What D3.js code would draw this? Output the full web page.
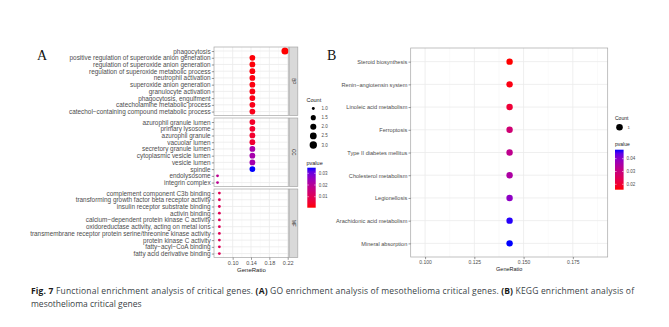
<!DOCTYPE html>
<html>
<head>
<meta charset="utf-8">
<script src="https://cdn.jsdelivr.net/npm/d3@7"></script>
<style>
  body { margin: 0; background: #fff; }
  svg { display: block; }
</style>
</head>
<body>
<div id="chart"></div>
<script>
// DATA - panel A (GO), top to bottom inside each ontology
const bpTerms = [
	"phagocytosis",
	"positive regulation of superoxide anion generation",
	"regulation of superoxide anion generation",
	"regulation of superoxide metabolic process",
	"neutrophil activation",
	"superoxide anion generation",
	"granulocyte activation",
	"phagocytosis, engulfment",
	"catecholamine metabolic process",
	"catechol\u2212containing compound metabolic process",
];
const bpRatio = [0.214, 0.143, 0.143, 0.143, 0.143, 0.143, 0.143, 0.143, 0.143, 0.143];
const bpCount = [3, 2, 2, 2, 2, 2, 2, 2, 2, 2];
const bpP = [0.0006, 0.0010, 0.0011, 0.0013, 0.0015, 0.0016, 0.0018, 0.0020, 0.0022, 0.0024];

const ccTerms = [
	"azurophil granule lumen",
	"primary lysosome",
	"azurophil granule",
	"vacuolar lumen",
	"secretory granule lumen",
	"cytoplasmic vesicle lumen",
	"vesicle lumen",
	"spindle",
	"endolysosome",
	"integrin complex",
];
const ccRatio = [0.143, 0.143, 0.143, 0.143, 0.143, 0.143, 0.143, 0.143, 0.067, 0.067];
const ccCount = [2, 2, 2, 2, 2, 2, 2, 2, 1, 1];
const ccP = [0.0040, 0.0045, 0.0045, 0.0050, 0.0225, 0.0230, 0.0230, 0.0348, 0.0190, 0.0190];

const mfTerms = [
	"complement component C3b binding",
	"transforming growth factor beta receptor activity",
	"insulin receptor substrate binding",
	"activin binding",
	"calcium\u2212dependent protein kinase C activity",
	"oxidoreductase activity, acting on metal ions",
	"transmembrane receptor protein serine/threonine kinase activity",
	"protein kinase C activity",
	"fatty\u2212acyl\u2212CoA binding",
	"fatty acid derivative binding",
];
const mfRatio = [0.071, 0.071, 0.071, 0.071, 0.071, 0.071, 0.071, 0.071, 0.071, 0.071];
const mfCount = [1, 1, 1, 1, 1, 1, 1, 1, 1, 1];
const mfP = [0.0105, 0.0105, 0.0105, 0.0105, 0.0105, 0.0105, 0.0105, 0.0105, 0.0105, 0.0105];

const ontologies = ["BP", "CC", "MF"];
const goTicks = [0.10, 0.14, 0.18, 0.22];
const goMinor = [0.08, 0.12, 0.16, 0.20];
const countLegend = [1.0, 1.5, 2.0, 2.5, 3.0];
const goPTicks = [0.01, 0.02, 0.03];

// DATA - panel B (KEGG)
const keggTerms = [
	"Steroid biosynthesis",
	"Renin\u2212angiotensin system",
	"Linoleic acid metabolism",
	"Ferroptosis",
	"Type II diabetes mellitus",
	"Cholesterol metabolism",
	"Legionellosis",
	"Arachidonic acid metabolism",
	"Mineral absorption",
];
const keggRatio = [0.1429, 0.1429, 0.1429, 0.1429, 0.1429, 0.1429, 0.1429, 0.1429, 0.1429];
const keggCount = [1, 1, 1, 1, 1, 1, 1, 1, 1];
const keggP = [0.0158, 0.0168, 0.0205, 0.0285, 0.0320, 0.0350, 0.0395, 0.0465, 0.0470];
const keggTicks = [0.100, 0.125, 0.150, 0.175];
const keggMinor = [0.1125, 0.1375, 0.1625, 0.1875];
const keggPTicks = [0.02, 0.03, 0.04];

//DIMENSIONS
const width = 669,
	height = 327;
const font = "'Liberation Sans', Arial, sans-serif";
const txt = "#4d4d4d";
const gridMajor = "#ebebeb",
	gridMinor = "#f5f5f5",
	border = "#a6a6a6";

const svg = d3
	.select("#chart")
	.append("svg")
	.attr("width", width)
	.attr("height", height);

/* panel A */
const aLeft = 214,
	aRight = 288.8,
	stripW = 8.6,
	panelTops = [47, 118, 189],
	panelH = 68.6;

const xA = d3.scaleLinear().domain([0.0593, 0.2224]).range([aLeft, aRight]);

const pAll = [...bpP, ...ccP, ...mfP];
const colorA = d3
	.scaleLinear()
	.domain(d3.extent(pAll))
	.range(["red", "blue"])
	.interpolate(d3.interpolateLab);

// ggplot style area scaling of point size
const sizeT = d3.scaleLinear().domain([1, 3]).range([0, 1]);
const rA = d3.scaleLinear().domain([0, 1]).range([1.4, 3.5]);
const radiusA = c => rA(Math.sqrt(sizeT(c)));

const goData = [
	{ terms: bpTerms, ratio: bpRatio, count: bpCount, p: bpP },
	{ terms: ccTerms, ratio: ccRatio, count: ccCount, p: ccP },
	{ terms: mfTerms, ratio: mfRatio, count: mfCount, p: mfP },
];

goData.forEach((g, k) => {
	const top = panelTops[k];
	const y = d3.scalePoint().domain(g.terms).range([top, top + panelH]).padding(0.6);
	const panel = svg.append("g");

	panel
		.append("rect")
		.attr("x", aLeft)
		.attr("y", top)
		.attr("width", aRight - aLeft)
		.attr("height", panelH)
		.attr("fill", "#fff");

	// grid
	panel
		.selectAll("line.minor")
		.data(goMinor)
		.enter()
		.append("line")
		.attr("x1", d => xA(d))
		.attr("x2", d => xA(d))
		.attr("y1", top)
		.attr("y2", top + panelH)
		.attr("stroke", gridMinor)
		.attr("stroke-width", 0.5);
	panel
		.selectAll("line.vmaj")
		.data(goTicks)
		.enter()
		.append("line")
		.attr("x1", d => xA(d))
		.attr("x2", d => xA(d))
		.attr("y1", top)
		.attr("y2", top + panelH)
		.attr("stroke", gridMajor)
		.attr("stroke-width", 0.8);
	panel
		.selectAll("line.hmaj")
		.data(g.terms)
		.enter()
		.append("line")
		.attr("x1", aLeft)
		.attr("x2", aRight)
		.attr("y1", d => y(d))
		.attr("y2", d => y(d))
		.attr("stroke", gridMajor)
		.attr("stroke-width", 0.8);

	// points
	panel
		.selectAll("circle")
		.data(g.terms.map((t, i) => ({ t, r: g.ratio[i], c: g.count[i], p: g.p[i] })))
		.enter()
		.append("circle")
		.attr("cx", d => xA(d.r))
		.attr("cy", d => y(d.t))
		.attr("r", d => radiusA(d.c))
		.attr("fill", d => colorA(d.p));

	panel
		.append("rect")
		.attr("x", aLeft)
		.attr("y", top)
		.attr("width", aRight - aLeft)
		.attr("height", panelH)
		.attr("fill", "none")
		.attr("stroke", border)
		.attr("stroke-width", 0.7);

	// strip
	panel
		.append("rect")
		.attr("x", aRight + 0.4)
		.attr("y", top)
		.attr("width", stripW)
		.attr("height", panelH)
		.attr("fill", "#d9d9d9")
		.attr("stroke", border)
		.attr("stroke-width", 0.7);
	panel
		.append("text")
		.attr("transform", `translate(${aRight + 0.4 + stripW / 2}, ${top + panelH / 2}) rotate(90)`)
		.attr("text-anchor", "middle")
		.attr("dy", "0.35em")
		.style("font-family", font)
		.style("font-size", "4.6px")
		.style("fill", "#1a1a1a")
		.text(ontologies[k]);

	// y axis
	const yAxis = panel
		.append("g")
		.attr("transform", `translate(${aLeft},0)`)
		.call(d3.axisLeft(y).tickSize(2.2).tickPadding(1.2));
	yAxis.select(".domain").remove();
	yAxis.selectAll("line").attr("stroke", "#333").attr("stroke-width", 0.5);
	yAxis
		.selectAll("text")
		.style("font-family", font)
		.style("font-size", "6.4px")
		.attr("fill", txt);

	if (k === 2) {
		const xAxis = panel
			.append("g")
			.attr("transform", `translate(0,${top + panelH})`)
			.call(d3.axisBottom(xA).tickValues(goTicks).tickFormat(d3.format(".2f")).tickSize(2.2).tickPadding(1.2));
		xAxis.select(".domain").remove();
		xAxis.selectAll("line").attr("stroke", "#333").attr("stroke-width", 0.5);
		xAxis
			.selectAll("text")
			.style("font-family", font)
			.style("font-size", "5.5px")
			.attr("fill", txt);
		panel
			.append("text")
			.attr("x", (aLeft + aRight) / 2)
			.attr("y", top + panelH + 14.5)
			.attr("text-anchor", "middle")
			.style("font-family", font)
			.style("font-size", "6px")
			.style("fill", "#1a1a1a")
			.text("GeneRatio");
	}
});

// legend helper
function colourbar(g, x, y, w, h, scale, ticks) {
	const id = "grad" + Math.round(x);
	const grad = svg
		.append("defs")
		.append("linearGradient")
		.attr("id", id)
		.attr("x1", 0)
		.attr("x2", 0)
		.attr("y1", 1)
		.attr("y2", 0);
	const dom = scale.domain();
	d3.range(0, 1.0001, 0.1).forEach(t => {
		grad
			.append("stop")
			.attr("offset", t)
			.attr("stop-color", scale(dom[0] + t * (dom[1] - dom[0])));
	});
	g.append("rect").attr("x", x).attr("y", y).attr("width", w).attr("height", h).attr("fill", `url(#${id})`);
	const yb = d3.scaleLinear().domain(dom).range([y + h, y]);
	ticks.forEach(v => {
		g.append("line").attr("x1", x).attr("x2", x + 1.6).attr("y1", yb(v)).attr("y2", yb(v)).attr("stroke", "#fff").attr("stroke-width", 0.5);
		g.append("line").attr("x1", x + w - 1.6).attr("x2", x + w).attr("y1", yb(v)).attr("y2", yb(v)).attr("stroke", "#fff").attr("stroke-width", 0.5);
		g.append("text")
			.attr("x", x + w + 3)
			.attr("y", yb(v))
			.attr("dy", "0.35em")
			.style("font-family", font)
			.style("font-size", "4.5px")
			.style("fill", txt)
			.text(v.toFixed(2));
	});
}

// legend A
const legA = svg.append("g");
legA
	.append("text")
	.attr("x", 306.5)
	.attr("y", 102)
	.style("font-family", font)
	.style("font-size", "5.5px")
	.style("fill", "#1a1a1a")
	.text("Count");
const legY = d3.scaleLinear().domain([1, 3]).range([108.5, 145]);
countLegend.forEach(c => {
	legA.append("circle").attr("cx", 313.3).attr("cy", legY(c)).attr("r", radiusA(c) * 1.05).attr("fill", "#000");
	legA
		.append("text")
		.attr("x", 321.5)
		.attr("y", legY(c))
		.attr("dy", "0.35em")
		.style("font-family", font)
		.style("font-size", "4.5px")
		.style("fill", txt)
		.text(c.toFixed(1));
});
legA
	.append("text")
	.attr("x", 306.5)
	.attr("y", 165)
	.style("font-family", font)
	.style("font-size", "5.5px")
	.style("fill", "#1a1a1a")
	.text("pvalue");
colourbar(legA, 307.3, 167.7, 8.4, 40, colorA, goPTicks);

/* panel B */
const bLeft = 410.7,
	bRight = 607.7,
	bTop = 48,
	bBottom = 257;
const xB = d3.scaleLinear().domain([0.0927, 0.1927]).range([bLeft, bRight]);
const yB = d3.scalePoint().domain(keggTerms).range([bTop, bBottom]).padding(0.6);
const colorB = d3
	.scaleLinear()
	.domain(d3.extent(keggP))
	.range(["red", "blue"])
	.interpolate(d3.interpolateLab);

const pb = svg.append("g");
pb.selectAll("line.minor")
	.data(keggMinor)
	.enter()
	.append("line")
	.attr("x1", d => xB(d))
	.attr("x2", d => xB(d))
	.attr("y1", bTop)
	.attr("y2", bBottom)
	.attr("stroke", gridMinor)
	.attr("stroke-width", 0.5);
pb.selectAll("line.vmaj")
	.data(keggTicks)
	.enter()
	.append("line")
	.attr("x1", d => xB(d))
	.attr("x2", d => xB(d))
	.attr("y1", bTop)
	.attr("y2", bBottom)
	.attr("stroke", gridMajor)
	.attr("stroke-width", 0.8);
pb.selectAll("line.hmaj")
	.data(keggTerms)
	.enter()
	.append("line")
	.attr("x1", bLeft)
	.attr("x2", bRight)
	.attr("y1", d => yB(d))
	.attr("y2", d => yB(d))
	.attr("stroke", gridMajor)
	.attr("stroke-width", 0.8);

pb.selectAll("circle")
	.data(keggTerms.map((t, i) => ({ t, r: keggRatio[i], c: keggCount[i], p: keggP[i] })))
	.enter()
	.append("circle")
	.attr("cx", d => xB(d.r))
	.attr("cy", d => yB(d.t))
	.attr("r", 3.2)
	.attr("fill", d => colorB(d.p));

pb.append("rect")
	.attr("x", bLeft)
	.attr("y", bTop)
	.attr("width", bRight - bLeft)
	.attr("height", bBottom - bTop)
	.attr("fill", "none")
	.attr("stroke", border)
	.attr("stroke-width", 0.7);

const yAxisB = pb
	.append("g")
	.attr("transform", `translate(${bLeft},0)`)
	.call(d3.axisLeft(yB).tickSize(2.2).tickPadding(1.2));
yAxisB.select(".domain").remove();
yAxisB.selectAll("line").attr("stroke", "#333").attr("stroke-width", 0.5);
yAxisB
	.selectAll("text")
	.style("font-family", font)
	.style("font-size", "5.6px")
	.attr("fill", txt);

const xAxisB = pb
	.append("g")
	.attr("transform", `translate(0,${bBottom})`)
	.call(d3.axisBottom(xB).tickValues(keggTicks).tickFormat(d3.format(".3f")).tickSize(2.2).tickPadding(1.2));
xAxisB.select(".domain").remove();
xAxisB.selectAll("line").attr("stroke", "#333").attr("stroke-width", 0.5);
xAxisB
	.selectAll("text")
	.style("font-family", font)
	.style("font-size", "5px")
	.attr("fill", txt);
pb.append("text")
	.attr("x", (bLeft + bRight) / 2)
	.attr("y", bBottom + 13.5)
	.attr("text-anchor", "middle")
	.style("font-family", font)
	.style("font-size", "5.5px")
	.style("fill", "#1a1a1a")
	.text("GeneRatio");

// legend B
const legB = svg.append("g");
legB.append("text")
	.attr("x", 615)
	.attr("y", 119.5)
	.style("font-family", font)
	.style("font-size", "5px")
	.style("fill", "#1a1a1a")
	.text("Count");
legB.append("circle").attr("cx", 619.5).attr("cy", 127.3).attr("r", 3.3).attr("fill", "#000");
legB.append("text")
	.attr("x", 627.5)
	.attr("y", 127.3)
	.attr("dy", "0.35em")
	.style("font-family", font)
	.style("font-size", "4.3px")
	.style("fill", txt)
	.text("1");
legB.append("text")
	.attr("x", 615)
	.attr("y", 146)
	.style("font-family", font)
	.style("font-size", "5px")
	.style("fill", "#1a1a1a")
	.text("pvalue");
colourbar(legB, 615, 149.7, 8.6, 40, colorB, keggPTicks);

// PANEL LETTERS
svg.append("text")
	.attr("x", 37)
	.attr("y", 60)
	.style("font-family", "'Liberation Serif', 'Times New Roman', serif")
	.style("font-size", "14px")
	.style("fill", "#111")
	.text("A");
svg.append("text")
	.attr("x", 327)
	.attr("y", 60)
	.style("font-family", "'Liberation Serif', 'Times New Roman', serif")
	.style("font-size", "14px")
	.style("fill", "#111")
	.text("B");

// CAPTION
const cap = svg
	.append("text")
	.attr("x", 31)
	.attr("y", 294)
	.attr("textLength", 603)
	.attr("lengthAdjust", "spacing")
	.style("font-family", "'Open Sans', 'Noto Sans', sans-serif")
	.style("font-size", "8.5px")
	.style("fill", "#3a3f47");
cap.append("tspan").style("font-weight", 700).style("fill", "#1a1a1a").text("Fig. 7");
cap.append("tspan").text(" Functional enrichment analysis of critical genes. ");
cap.append("tspan").style("font-weight", 700).style("fill", "#1a1a1a").text("(A)");
cap.append("tspan").text(" GO enrichment analysis of mesothelioma critical genes. ");
cap.append("tspan").style("font-weight", 700).style("fill", "#1a1a1a").text("(B)");
cap.append("tspan").text(" KEGG enrichment analysis of");
svg.append("text")
	.attr("x", 31)
	.attr("y", 306.5)
	.style("font-family", "'Open Sans', 'Noto Sans', sans-serif")
	.style("font-size", "8.5px")
	.style("fill", "#3a3f47")
	.text("mesothelioma critical genes");
</script>
</body>
</html>
